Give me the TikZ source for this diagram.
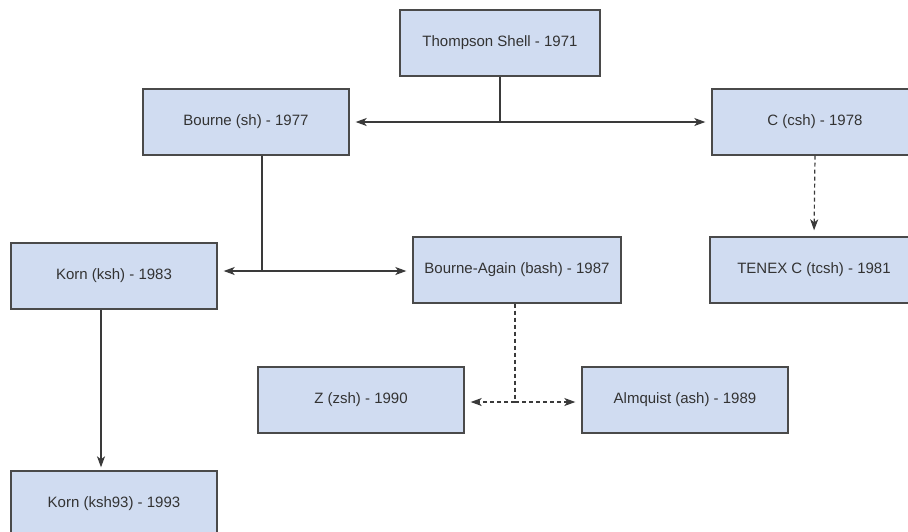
\documentclass[tikz,border=0pt]{standalone}
\usepackage{fontspec}
\setmainfont{Liberation Sans}
\usetikzlibrary{arrows.meta}
\definecolor{boxfill}{HTML}{D0DCF1}
\definecolor{boxline}{HTML}{4A4A4A}
\definecolor{txt}{HTML}{333333}
\definecolor{ln}{HTML}{3A3A3A}
\tikzset{
  shellbox/.style={draw=boxline, fill=boxfill, line width=1.4pt, minimum width=206pt, minimum height=66pt, inner sep=0pt, text=txt, font=\fontsize{15pt}{18pt}\selectfont},
  conn/.style={draw=ln, line width=1.2pt},
  arr/.style={conn, -{Stealth[length=11pt,width=8pt,inset=3pt]}, shorten >=6pt},
  dsh/.style={dash pattern=on 4pt off 3pt}
}
\begin{document}
\begin{tikzpicture}[x=1pt,y=-1pt]
\useasboundingbox (0,0) rectangle (908,531);
\clip (0,0) rectangle (908,531);
\fill[white] (0,0) rectangle (908,531);
\node[shellbox, minimum width=200pt] (th) at (500,43) {Thompson Shell - 1971};
\node[shellbox] (bo) at (246,122) {Bourne (sh) - 1977};
\node[shellbox] (cs) at (815,122) {C (csh) - 1978};
\node[shellbox] (ko) at (114,276) {Korn (ksh) - 1983};
\node[shellbox, minimum width=208pt] (ba) at (517,270) {Bourne-Again (bash) - 1987};
\node[shellbox, minimum width=208pt] (te) at (814,270) {TENEX C (tcsh) - 1981};
\node[shellbox] (zs) at (361,400) {Z (zsh) - 1990};
\node[shellbox] (al) at (685,400) {Almquist (ash) - 1989};
\node[shellbox] (k9) at (114,504) {Korn (ksh93) - 1993};
\coordinate (j1) at (500,122);
\coordinate (j2) at (262,271);
\coordinate (j3) at (515,402);
\coordinate (j4) at (101,0);
% Thompson branch
\draw[conn] (th.south) -- (j1);
\draw[arr] (j1) -- (bo.east);
\draw[arr] (j1) -- (cs.west);
% Bourne branch
\draw[conn] (bo.south -| j2) -- (j2);
\draw[arr] (j2) -- (j2 -| ko.east);
\draw[arr] (j2) -- (j2 -| ba.west);
% C to TENEX
\draw[arr, dsh] (cs.south) -- (te.north);
% Bash branch
\draw[conn, dsh] (ba.south -| j3) -- (j3);
\draw[arr, dsh] (j3) -- (j3 -| zs.east);
\draw[arr, dsh] (j3) -- (j3 -| al.west);
% Korn to ksh93
\draw[arr, shorten >=3pt] (ko.south -| j4) -- (k9.north -| j4);
\end{tikzpicture}
\end{document}
